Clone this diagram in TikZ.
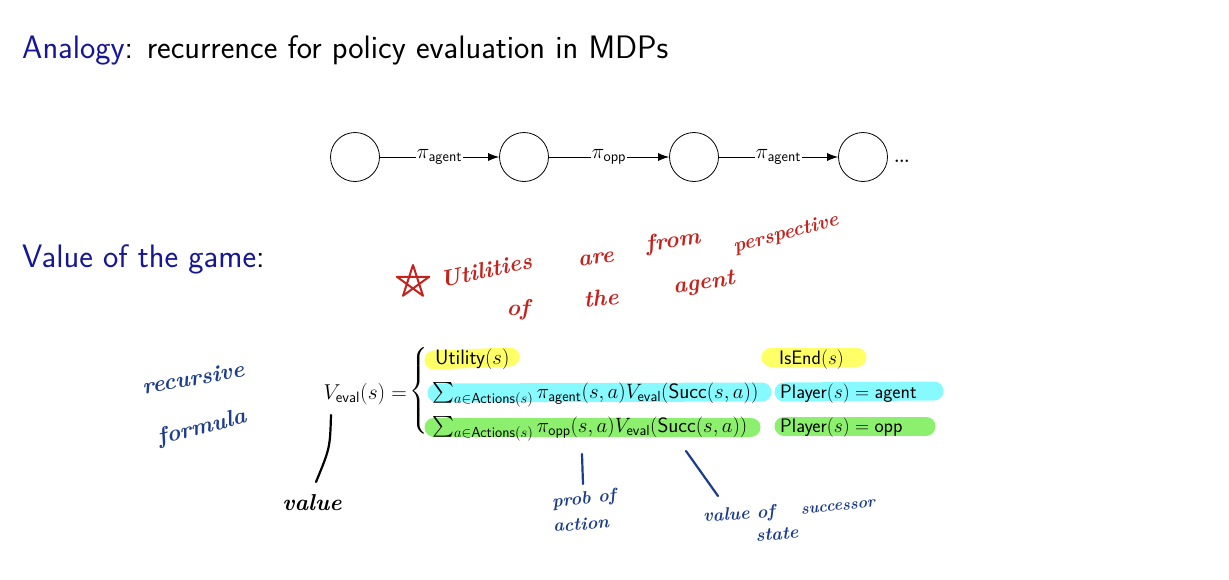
\RequirePackage{fix-cm}
\documentclass[tikz,border=0pt]{standalone}
\usepackage{amsmath}
\usepackage{exscale}
\usepackage{fontspec}
\usetikzlibrary{arrows.meta}
\definecolor{structblue}{RGB}{22,22,150}
\definecolor{inkred}{RGB}{196,34,28}
\definecolor{inkblue}{RGB}{28,60,140}
\definecolor{hlyellow}{RGB}{255,255,102}
\definecolor{hlcyan}{RGB}{135,250,255}
\definecolor{hlgreen}{RGB}{140,240,110}
\newcommand{\sfop}[1]{\textsf{#1}}
\begin{document}
\begin{tikzpicture}[x=1pt,y=-1pt,
  titletext/.style={anchor=base west,inner sep=0pt,font=\sffamily\fontsize{32.5}{38}\selectfont},
  statenode/.style={circle,draw,line width=0.8pt,minimum size=49pt,inner sep=0pt},
  edgelabel/.style={fill=white,inner sep=1pt,font=\fontsize{21}{24}\selectfont},
  transition/.style={line width=0.8pt,-{Latex[length=11pt,width=8pt]}},
  mathtext/.style={anchor=base west,inner sep=0pt,font=\fontsize{20.8}{24}\selectfont},
  condtext/.style={anchor=base west,inner sep=0pt,font=\fontsize{19.5}{23}\selectfont},
  highlight/.style={line width=19pt,line cap=round},
  inkstroke/.style={line width=2.2pt,line cap=round},
  handtext/.style={inner sep=0pt,font=\bfseries\itshape\fontsize{23}{26}\selectfont},
  smallhand/.style={handtext,font=\bfseries\itshape\fontsize{18}{21}\selectfont}]
\useasboundingbox (0,0) rectangle (1229,579);

% headings
\node[titletext] (title) at (22,58) {\textcolor{structblue}{Analogy}: recurrence for policy evaluation in MDPs};
\node[titletext] (gameval) at (22,267) {\textcolor{structblue}{Value of the game}:};

% alternating chain of turns
\node[statenode] (s1) at (355,157) {};
\node[statenode] (s2) at (524,157) {};
\node[statenode] (s3) at (694,157) {};
\node[statenode] (s4) at (863,157) {};
\node[anchor=west,inner sep=0pt,font=\fontsize{30}{34}\selectfont] (dots) at (893,161) {\dots};
\draw[transition] (s1) -- node[edgelabel] (l1) {$\pi_{\sfop{agent}}$} (s2);
\draw[transition] (s2) -- node[edgelabel] (l2) {$\pi_{\sfop{opp}}$} (s3);
\draw[transition] (s3) -- node[edgelabel] (l3) {$\pi_{\sfop{agent}}$} (s4);

% highlighter marks behind the cases
\draw[highlight,hlyellow] (434,360) -- (510,357);
\draw[highlight,hlyellow] (771,357) -- (857,357);
\draw[highlight,hlcyan] (437,393) -- (762,392);
\draw[highlight,hlcyan] (784,392) -- (934,391);
\draw[highlight,hlgreen] (434,427) -- (751,427);
\draw[highlight,hlgreen] (784,426) -- (926,426);

% recurrence
\node[anchor=base east,inner sep=0pt,font=\fontsize{21.5}{25}\selectfont] (lhs) at (407,399) {$V_{\sfop{eval}}(s) =$};
\node[inner sep=0pt,font=\fontsize{19.5}{23}\selectfont] (brace) at (419,391) {$\left\{\rule{0pt}{46pt}\right.$};
\node[mathtext] (c1) at (435,364) {$\sfop{Utility}(s)$};
\node[mathtext] (c2) at (432,398) {$\sum_{a\in\sfop{Actions}(s)}\pi_{\sfop{agent}}(s,a)V_{\sfop{eval}}(\sfop{Succ}(s,a))$};
\node[mathtext] (c3) at (432,432) {$\sum_{a\in\sfop{Actions}(s)}\pi_{\sfop{opp}}(s,a)V_{\sfop{eval}}(\sfop{Succ}(s,a))$};
\node[condtext] (d1) at (779,364) {$\sfop{IsEnd}(s)$};
\node[condtext] (d2) at (780,398) {$\sfop{Player}(s)=\sfop{agent}$};
\node[condtext] (d3) at (780,432) {$\sfop{Player}(s)=\sfop{opp}$};

% red ink note
\draw[inkstroke,inkred,line width=2pt,line join=round,shift={(413,282)}]
  (270:17) -- (54:17) -- (198:17) -- (342:17) -- (126:17) -- cycle;
\node[handtext,text=inkred,rotate=12] (n1) at (486,270) {Utilities};
\node[handtext,text=inkred,rotate=8] (n2) at (596,259) {are};
\node[handtext,text=inkred,rotate=8] (n3) at (673,242) {from};
\node[handtext,text=inkred,font=\bfseries\itshape\fontsize{20}{23}\selectfont,rotate=15] (n4) at (786,234) {perspective};
\node[handtext,text=inkred] (n5) at (518,310) {of};
\node[handtext,text=inkred,rotate=5] (n6) at (601,298) {the};
\node[handtext,text=inkred,rotate=8] (n7) at (704,284) {agent};

% blue and black ink notes
\node[handtext,text=inkblue,rotate=10] (r1) at (193,378) {recursive};
\node[handtext,text=inkblue,rotate=14] (r2) at (202,428) {formula};
\coordinate (vtop) at (331,415);
\coordinate (vbot) at (316,482);
\draw[inkstroke,black] (vtop) .. controls (330,448) .. (vbot);
\node[handtext,text=black] (v1) at (312,503) {value};
\coordinate (ptop) at (582,454);
\coordinate (pbot) at (583,484);
\draw[inkstroke,inkblue] (ptop) -- (pbot);
\node[smallhand,text=inkblue,rotate=6] (p1) at (584,500) {prob of};
\node[smallhand,text=inkblue,rotate=4] (p2) at (581,524) {action};
\coordinate (stop) at (686,451);
\coordinate (sbot) at (718,496);
\draw[inkstroke,inkblue] (stop) -- (sbot);
\node[smallhand,text=inkblue,rotate=4] (q1) at (739,515) {value of};
\node[smallhand,text=inkblue,font=\bfseries\itshape\fontsize{16}{19}\selectfont,rotate=6] (q2) at (838,507) {successor};
\node[smallhand,text=inkblue,rotate=4] (q3) at (777,534) {state};
\end{tikzpicture}
\end{document}
